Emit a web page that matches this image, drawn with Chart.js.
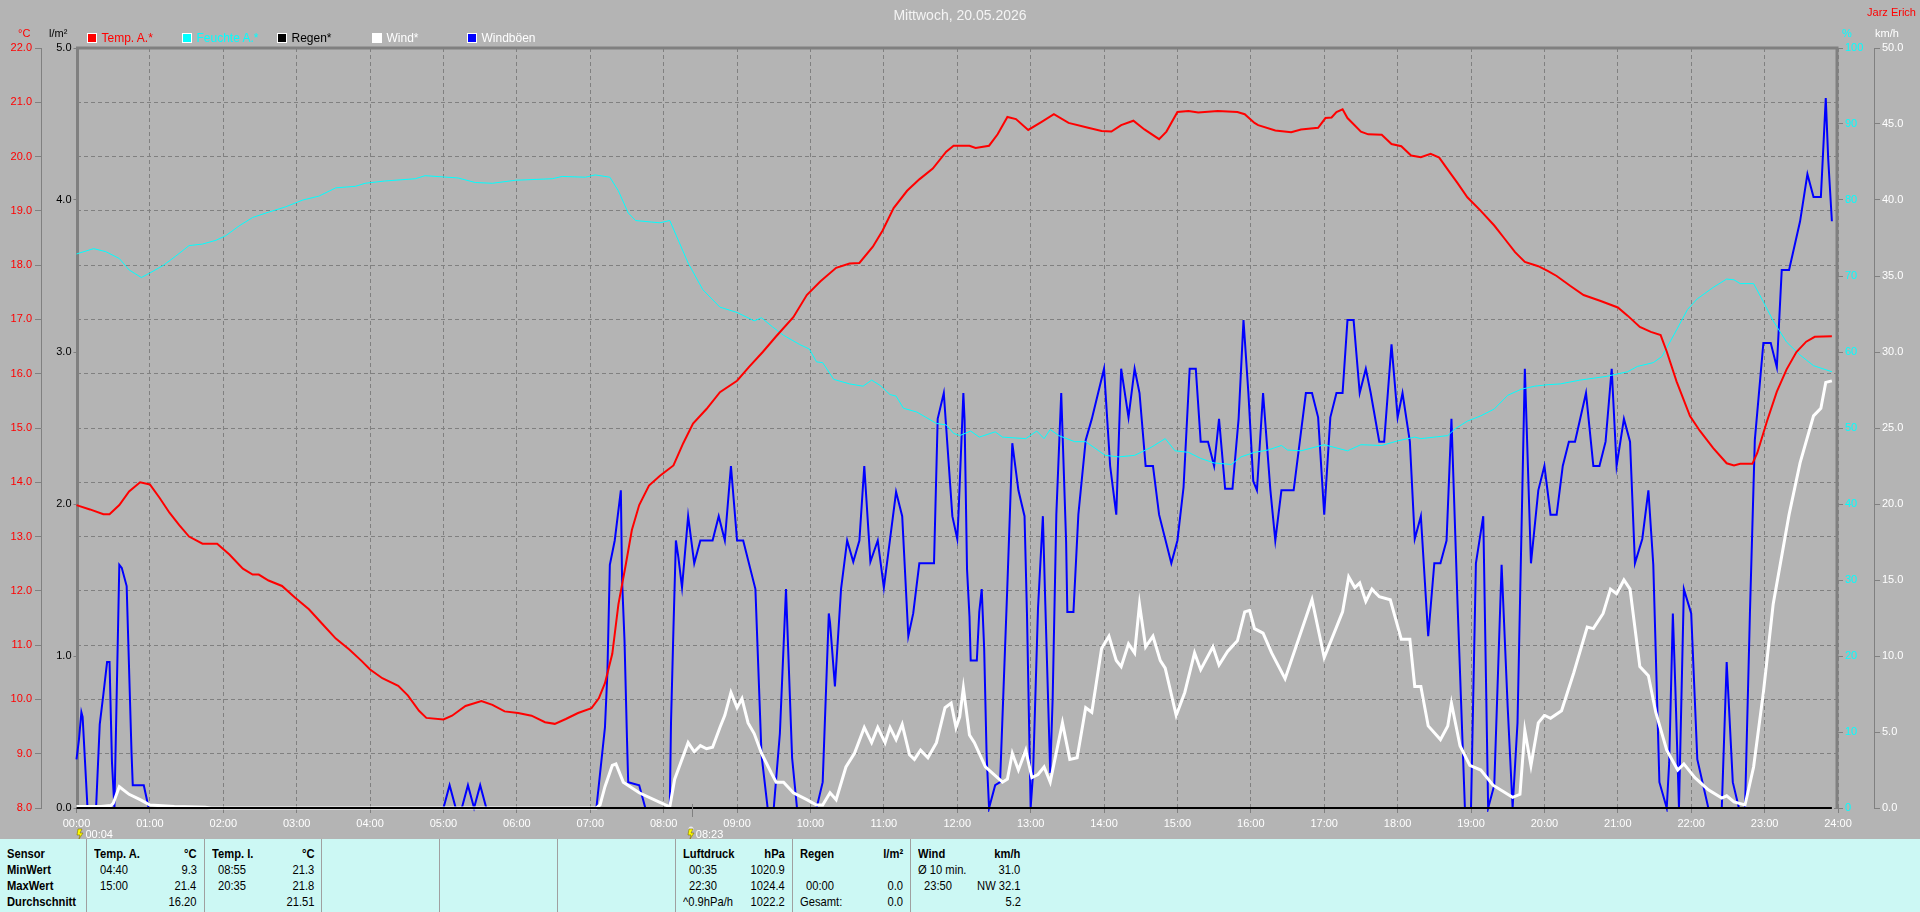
<!DOCTYPE html>
<html>
<head>
<meta charset="utf-8">
<script src="https://cdn.jsdelivr.net/npm/chart.js@4.4.1/dist/chart.umd.min.js"></script>
<style>
html,body{margin:0;padding:0;width:1920px;height:912px;overflow:hidden;background:#b4b4b4;font-family:"Liberation Sans",Arial,sans-serif;}
#wrap{position:absolute;left:0;top:0;width:1920px;height:839px;}
#c{position:absolute;left:0;top:0;}
.t{position:absolute;white-space:nowrap;line-height:14px;}
.sq{position:absolute;width:8px;height:8px;border:1px solid #ffffff;}
#table{position:absolute;left:0;top:839px;width:1920px;height:73px;background:#ccf8f4;font-family:"Liberation Sans",Arial,sans-serif;font-size:13px;color:#000;}
.col{position:absolute;top:0;height:73px;box-sizing:border-box;padding-top:7px;}
.col.sep{border-left:1px solid #a0a0a0;}
.row{display:flex;justify-content:space-between;height:16px;line-height:16px;padding:0 7px 0 7px;white-space:nowrap;}
.row span{display:inline-block;}
.row .l{transform:scaleX(0.86);transform-origin:left center;}
.row .r{transform:scaleX(0.86);transform-origin:right center;}
.b{font-weight:bold;}
.ind{margin-left:6px;}
</style>
</head>
<body>
<div id="wrap"><canvas id="c" width="1920" height="839"></canvas></div>
<div id="table"></div>
<script>
// ---------------- DATA ----------------
const chartTitle = "Mittwoch, 20.05.2026";
const stationName = "Jarz Erich";
const seriesNames = ["Temp. A.*", "Feuchte A.*", "Regen*", "Wind*", "Windböen"];
const seriesColors = ["#ff0000", "#00ffff", "#000000", "#ffffff", "#0000ff"];
const legendTextColors = ["#ff0000", "#00ffff", "#000000", "#ffffff", "#ffffff"];
const axisUnits = ["°C", "l/m²", "%", "km/h"];
const markerTimes = [4, 503]; // minutes: 00:04, 08:23

// [minute of day, value]
const temperature = [[0,13.58],[11,13.50],[22,13.41],[27,13.41],[35,13.58],[43,13.83],[52,14.00],[60,13.96],[68,13.71],[76,13.44],[84,13.21],[92,13.00],[103,12.87],[115,12.87],[125,12.67],[136,12.41],[144,12.30],[149,12.30],[157,12.19],[168,12.09],[179,11.87],[190,11.66],[201,11.39],[212,11.12],[223,10.92],[233,10.71],[240,10.55],[250,10.39],[263,10.25],[271,10.07],[280,9.79],[286,9.66],[300,9.63],[307,9.70],[318,9.88],[331,9.97],[340,9.90],[350,9.78],[361,9.75],[372,9.70],[383,9.58],[391,9.55],[400,9.64],[410,9.75],[421,9.84],[427,10.02],[432,10.30],[438,10.84],[443,11.75],[449,12.48],[454,13.12],[460,13.58],[468,13.94],[477,14.12],[488,14.31],[496,14.72],[504,15.08],[515,15.35],[526,15.66],[540,15.87],[550,16.13],[561,16.40],[572,16.69],[586,17.04],[597,17.45],[608,17.70],[621,17.95],[632,18.03],[640,18.04],[651,18.34],[659,18.64],[668,19.05],[679,19.37],[689,19.58],[700,19.78],[711,20.09],[717,20.20],[730,20.20],[735,20.16],[746,20.20],[753,20.41],[761,20.73],[768,20.69],[778,20.49],[789,20.64],[799,20.78],[811,20.62],[827,20.53],[838,20.47],[846,20.46],[854,20.58],[864,20.66],[873,20.50],[885,20.32],[891,20.46],[900,20.82],[909,20.84],[917,20.81],[933,20.84],[949,20.82],[955,20.78],[963,20.62],[966,20.58],[980,20.48],[993,20.45],[1001,20.50],[1015,20.53],[1021,20.71],[1026,20.72],[1030,20.82],[1035,20.87],[1039,20.71],[1050,20.46],[1056,20.41],[1067,20.40],[1075,20.23],[1083,20.19],[1091,20.02],[1099,19.99],[1107,20.05],[1114,19.98],[1121,19.76],[1129,19.51],[1137,19.25],[1148,19.00],[1159,18.73],[1167,18.50],[1176,18.24],[1184,18.06],[1195,17.98],[1203,17.89],[1210,17.80],[1221,17.62],[1232,17.45],[1246,17.34],[1260,17.22],[1268,17.07],[1278,16.86],[1287,16.77],[1295,16.71],[1300,16.41],[1308,15.86],[1319,15.22],[1327,14.95],[1338,14.63],[1349,14.35],[1355,14.31],[1360,14.34],[1370,14.34],[1374,14.54],[1382,15.13],[1390,15.67],[1398,16.08],[1406,16.40],[1414,16.59],[1421,16.68],[1435,16.69]];

const humidity = [[0,72.9],[14,73.6],[24,73.2],[35,72.3],[43,70.8],[53,69.8],[60,70.4],[71,71.4],[81,72.6],[92,74.0],[103,74.2],[114,74.7],[122,75.3],[133,76.6],[144,77.7],[157,78.4],[171,79.1],[185,80.0],[198,80.5],[212,81.6],[228,81.8],[236,82.2],[252,82.5],[277,82.8],[285,83.2],[312,82.9],[326,82.3],[340,82.2],[359,82.6],[389,82.8],[397,83.1],[416,83.0],[424,83.3],[436,83.0],[443,81.2],[451,78.3],[457,77.3],[470,77.1],[477,77.0],[485,77.3],[500,71.7],[512,68.2],[526,65.9],[540,65.2],[554,64.1],[560,64.5],[569,63.3],[578,62.2],[591,61.0],[599,60.4],[605,58.7],[610,58.6],[619,56.4],[632,55.8],[643,55.5],[650,56.3],[657,55.6],[665,54.4],[670,54.2],[676,52.6],[687,52.1],[703,50.6],[711,50.4],[717,49.3],[722,49.0],[731,49.6],[738,48.8],[751,49.5],[757,48.8],[776,48.6],[785,49.6],[791,48.6],[796,49.8],[803,49.0],[816,48.2],[825,48.2],[841,46.4],[852,46.2],[865,46.4],[879,47.5],[890,48.6],[898,47.0],[909,46.8],[919,46.0],[930,45.4],[944,45.2],[952,46.2],[963,46.8],[974,47.1],[985,47.7],[990,47.1],[1001,47.0],[1020,47.8],[1039,47.0],[1050,47.8],[1067,47.7],[1080,48.3],[1094,48.8],[1099,48.6],[1121,49.0],[1127,49.9],[1137,50.9],[1148,51.6],[1159,52.5],[1170,54.3],[1181,55.1],[1192,55.5],[1203,55.7],[1213,55.8],[1229,56.3],[1251,56.8],[1268,57.4],[1276,58.1],[1289,58.6],[1296,59.4],[1306,62.3],[1317,65.6],[1325,67.0],[1338,68.5],[1349,69.6],[1355,69.5],[1360,69.0],[1371,69.0],[1379,66.6],[1387,64.1],[1398,61.3],[1409,59.6],[1420,58.2],[1435,57.4]];

const rain = [[0,0],[1435,0]];

const wind = [[0,0.1],[20,0.1],[28,0.16],[30,0.3],[35,1.4],[43,0.9],[52,0.55],[60,0.2],[80,0.1],[105,0.05],[110,0],[425,0],[428,0.2],[432,1.4],[438,2.8],[441,2.9],[447,1.7],[460,1.0],[476,0.4],[485,0.07],[489,1.9],[500,4.3],[505,3.7],[510,4.1],[515,3.9],[520,4.0],[526,5.3],[530,6.1],[535,7.6],[540,6.6],[544,7.2],[549,5.6],[554,4.9],[560,3.6],[568,2.3],[572,1.7],[578,1.7],[586,1.0],[597,0.55],[605,0.2],[610,0.2],[616,1.0],[621,0.55],[629,2.7],[636,3.6],[644,5.3],[650,4.3],[655,5.3],[661,4.3],[665,5.3],[670,4.5],[675,5.5],[681,3.5],[685,3.2],[690,3.8],[696,3.3],[703,4.3],[710,6.6],[715,6.9],[719,5.3],[722,6.0],[725,7.9],[730,4.8],[734,4.3],[743,2.7],[757,1.7],[761,1.9],[765,3.6],[770,2.5],[776,3.8],[781,2.0],[786,2.2],[791,2.7],[796,1.7],[806,5.6],[812,3.2],[818,3.3],[825,6.6],[830,6.3],[838,10.5],[844,11.3],[850,9.7],[854,9.3],[860,10.8],[865,10.2],[869,13.4],[874,10.6],[880,11.3],[886,9.7],[890,9.2],[899,6.1],[906,7.6],[914,10.2],[919,9.1],[929,10.6],[934,9.4],[941,10.3],[949,11.0],[955,12.9],[959,13.0],[963,11.8],[970,11.5],[977,10.2],[988,8.5],[999,11.1],[1010,13.7],[1020,9.9],[1030,11.9],[1035,12.9],[1040,15.2],[1045,14.5],[1049,14.8],[1054,13.6],[1059,14.4],[1065,13.9],[1074,13.7],[1083,11.1],[1090,11.1],[1094,8.0],[1099,8.0],[1105,5.4],[1115,4.5],[1121,5.4],[1124,6.9],[1131,4.1],[1139,2.8],[1148,2.5],[1158,1.5],[1174,0.7],[1180,0.9],[1184,5.1],[1189,2.8],[1195,5.6],[1200,6.1],[1205,5.9],[1214,6.4],[1224,8.9],[1235,11.9],[1240,11.8],[1248,12.8],[1254,14.4],[1259,14.1],[1265,15.0],[1270,14.4],[1278,9.3],[1285,8.7],[1291,6.3],[1300,3.8],[1309,2.5],[1314,2.9],[1323,2.0],[1334,1.2],[1345,0.65],[1349,0.8],[1355,0.4],[1364,0.2],[1371,2.7],[1379,7.6],[1387,13.4],[1400,19.3],[1409,22.7],[1420,25.8],[1426,26.3],[1430,28.0],[1435,28.1]];

const gusts = [[0,3.2],[2,4.5],[4,6.3],[5,6.0],[9,0],[16,0],[19,5.5],[22,7.5],[25,9.6],[27,9.6],[29,3.0],[31,0],[35,16.0],[37,15.8],[41,14.6],[45,3.6],[46,1.5],[55,1.5],[59,0],[300,0],[305,1.5],[310,0],[315,0],[320,1.5],[325,0],[330,1.5],[335,0],[425,0],[432,5.3],[434,8.9],[436,16.0],[440,17.6],[445,20.9],[446,15.0],[448,11.0],[450,4.6],[451,1.7],[460,1.5],[465,0],[485,0],[486,5.6],[488,11.8],[490,17.6],[492,16.5],[495,14.5],[500,19.2],[505,16.1],[510,17.6],[520,17.6],[525,19.2],[530,17.6],[535,22.5],[540,17.6],[545,17.6],[555,14.4],[560,3.5],[565,0],[570,0],[575,4.9],[580,14.4],[585,3.3],[589,0],[605,0],[610,1.7],[615,12.8],[616,12.2],[620,8.0],[625,14.4],[630,17.6],[635,16.2],[640,17.6],[644,22.5],[649,16.2],[655,17.6],[660,14.5],[670,20.8],[675,19.2],[680,11.3],[684,12.8],[689,16.1],[701,16.1],[704,25.6],[709,27.3],[716,19.2],[720,17.7],[721,19.3],[725,27.3],[726,25.5],[728,15.7],[730,12.6],[731,9.7],[736,9.7],[738,12.9],[740,14.4],[742,10.5],[744,3.5],[746,0],[751,1.5],[755,1.7],[761,14.7],[763,19.3],[765,24.0],[770,20.9],[775,19.2],[777,12.8],[780,0],[782,2.3],[786,13.1],[790,19.2],[792,13.4],[796,2.3],[798,7.2],[801,19.3],[805,27.3],[809,17.5],[810,12.9],[815,12.9],[819,19.3],[825,24.2],[830,25.6],[840,28.9],[845,22.5],[850,19.3],[854,28.9],[860,25.7],[865,28.9],[869,27.3],[874,22.5],[880,22.5],[885,19.3],[895,16.1],[900,17.6],[905,21.1],[910,28.9],[915,28.9],[919,24.1],[925,24.1],[930,22.5],[934,25.6],[939,21.0],[945,21.0],[950,25.6],[954,32.1],[958,27.3],[962,21.5],[965,20.9],[970,27.3],[976,20.9],[980,17.6],[985,20.9],[995,20.9],[1005,27.3],[1010,27.3],[1015,25.7],[1020,19.3],[1025,25.7],[1030,27.3],[1035,27.3],[1039,32.1],[1044,32.1],[1049,27.3],[1054,28.9],[1058,27.3],[1065,24.1],[1069,24.1],[1075,30.5],[1080,25.7],[1084,27.3],[1090,24.1],[1094,17.7],[1099,19.2],[1105,11.3],[1110,16.1],[1115,16.1],[1120,17.6],[1124,25.6],[1129,13.4],[1135,0],[1140,0],[1144,16.1],[1150,19.2],[1154,0],[1159,1.5],[1165,16.0],[1170,6.6],[1174,0],[1178,5.6],[1184,28.9],[1189,16.1],[1195,20.9],[1200,22.5],[1205,19.3],[1210,19.3],[1215,22.5],[1220,24.1],[1225,24.1],[1234,27.3],[1240,22.5],[1245,22.5],[1250,24.1],[1255,28.9],[1259,22.5],[1265,25.6],[1270,24.1],[1274,16.1],[1280,17.7],[1285,20.9],[1289,16.0],[1294,1.7],[1300,0],[1302,3.0],[1305,12.8],[1307,8.0],[1310,0],[1314,14.4],[1320,12.8],[1325,3.2],[1334,0],[1345,0],[1349,9.6],[1354,1.7],[1359,0],[1364,0],[1368,12.8],[1372,24.2],[1379,30.6],[1385,30.6],[1390,29.0],[1394,35.4],[1400,35.4],[1409,38.6],[1415,41.7],[1420,40.2],[1426,40.2],[1430,46.7],[1432,42.7],[1435,38.6]];

// Summary table
const tableRowLabels = ["Sensor", "MinWert", "MaxWert", "Durchschnitt"];
const tableColumns = [
  {head:["Temp. A.","°C"], rows:[["04:40","9.3"],["15:00","21.4"],["","16.20"]]},
  {head:["Temp. I.","°C"], rows:[["08:55","21.3"],["20:35","21.8"],["","21.51"]]},
  null, null, null,
  {head:["Luftdruck","hPa"], rows:[["00:35","1020.9"],["22:30","1024.4"],["^0.9hPa/h","1022.2",true]]},
  {head:["Regen","l/m²"], rows:[["",""],["00:00","0.0"],["Gesamt:","0.0",true]]},
  {head:["Wind","km/h"], rows:[["Ø 10 min.","31.0",true],["23:50","NW 32.1"],["","5.2"]]}
];

// ---------------- CHART ----------------
const toXY = arr => arr.map(p => ({x: p[0], y: p[1]}));
const pad2 = n => String(n).padStart(2, "0");
const GRID = "#808080";
const tickFont = {family: "Liberation Sans", size: 11};

const framePlugin = {
  id: "frame",
  beforeDatasetsDraw(chart) {
    const {ctx, chartArea: a} = chart;
    ctx.save();
    ctx.strokeStyle = GRID;
    ctx.lineWidth = 3;
    ctx.beginPath();
    ctx.moveTo(a.left + 1, a.bottom);
    ctx.lineTo(a.left + 1, a.top);
    ctx.lineTo(a.right - 1, a.top);
    ctx.lineTo(a.right - 1, a.bottom);
    ctx.stroke();
    ctx.restore();
  },
  afterDraw(chart) {
    const {ctx, chartArea: a} = chart;
    const xs = chart.scales.x;
    ctx.save();
    markerTimes.forEach((m, i) => {
      const x = Math.round(xs.getPixelForValue(m));
      if (i > 0) {
        ctx.strokeStyle = GRID; ctx.lineWidth = 1;
        ctx.beginPath(); ctx.moveTo(x + 0.5, a.bottom - 4); ctx.lineTo(x + 0.5, a.bottom + 9); ctx.stroke();
        ctx.fillStyle = "#e8e8f0";
        ctx.beginPath(); ctx.arc(x - 1, a.bottom + 21, 2.5, 0, Math.PI * 2); ctx.fill();
      }
      ctx.fillStyle = "#ffff00";
      ctx.strokeStyle = "#807000";
      ctx.lineWidth = 0.6;
      ctx.beginPath();
      const y0 = a.bottom + 21;
      ctx.moveTo(x - 3, y0);
      ctx.lineTo(x + 1, y0);
      ctx.lineTo(x - 1, y0 + 4);
      ctx.lineTo(x + 2, y0 + 4);
      ctx.lineTo(x - 2, y0 + 10);
      ctx.lineTo(x - 1, y0 + 6);
      ctx.lineTo(x - 4, y0 + 6);
      ctx.closePath();
      ctx.fill(); ctx.stroke();
    });
    ctx.restore();
  }
};

const ds = (i, data, axis, width) => ({
  label: seriesNames[i],
  data: toXY(data),
  yAxisID: axis,
  borderColor: seriesColors[i],
  backgroundColor: seriesColors[i],
  borderWidth: width,
  pointRadius: 0,
  tension: 0,
  fill: false,
  clip: 4
});

const chart = new Chart(document.getElementById("c"), {
  type: "line",
  data: {
    datasets: [
      ds(0, temperature, "yT", 2),
      ds(1, humidity, "yH", 1),
      ds(2, rain, "yR", 2),
      ds(3, wind, "yW", 3),
      ds(4, gusts, "yW", 2)
    ]
  },
  options: {
    responsive: false,
    animation: false,
    devicePixelRatio: 1,
    events: [],
    layout: {padding: {top: 48, left: 0, right: 0, bottom: 0}},
    plugins: {legend: {display: false}, tooltip: {enabled: false}, title: {display: false}},
    scales: {
      x: {
        type: "linear", position: "bottom", min: 0, max: 1440,
        afterFit: s => { s.height = 31; },
        ticks: {stepSize: 60, autoSkip: false, maxRotation: 0, color: "#ffffff", font: tickFont, padding: 4,
                callback: v => pad2(Math.floor(v / 60)) + ":" + pad2(v % 60)},
        grid: {color: GRID, lineWidth: 1, drawTicks: true, tickLength: 5, tickColor: GRID},
        border: {display: false, dash: [4, 3]}
      },
      yT: {
        type: "linear", position: "left", weight: 1, min: 8, max: 22,
        afterFit: s => { s.width = 41; },
        ticks: {stepSize: 1, color: "#ff0000", font: tickFont, padding: 3, callback: v => v.toFixed(1)},
        grid: {color: GRID, lineWidth: 1, drawOnChartArea: true, drawTicks: true, tickLength: 6, tickColor: GRID},
        border: {display: true, color: GRID, width: 1, dash: [4, 3]}
      },
      yR: {
        type: "linear", position: "left", weight: 0, min: 0, max: 5,
        afterFit: s => { s.width = 35.5; },
        ticks: {stepSize: 1, color: "#000000", font: tickFont, padding: 2, callback: v => v.toFixed(1)},
        grid: {drawOnChartArea: false, drawTicks: true, tickLength: 3, tickColor: GRID},
        border: {display: false}
      },
      yH: {
        type: "linear", position: "right", weight: 0, min: 0, max: 100,
        afterFit: s => { s.width = 36; },
        ticks: {stepSize: 10, color: "#00ffff", font: tickFont, padding: 2, callback: v => String(v)},
        grid: {drawOnChartArea: false, drawTicks: true, tickLength: 5, tickColor: GRID},
        border: {display: false}
      },
      yW: {
        type: "linear", position: "right", weight: 1, min: 0, max: 50,
        afterFit: s => { s.width = 46; },
        ticks: {stepSize: 5, color: "#ffffff", font: tickFont, padding: 2, callback: v => v.toFixed(1)},
        grid: {drawOnChartArea: false, drawTicks: true, tickLength: 6, tickColor: GRID},
        border: {display: true, color: GRID, width: 1}
      }
    }
  },
  plugins: [framePlugin]
});

// ---------------- TEXT OVERLAYS ----------------
const wrap = document.getElementById("wrap");
function addText(txt, css) {
  const d = document.createElement("div");
  d.className = "t";
  d.textContent = txt;
  Object.assign(d.style, css);
  wrap.appendChild(d);
  return d;
}
const a = chart.chartArea;
addText(chartTitle, {left: "0px", width: "1920px", textAlign: "center", top: "8px", fontSize: "14px", color: "#f4f4f4"});
addText(stationName, {right: "4px", top: "5px", fontSize: "11px", color: "#ff0000"});
// axis units
addText(axisUnits[0], {left: "18px", top: "26px", fontSize: "11px", color: "#ff0000"});
addText(axisUnits[1], {left: "49px", top: "26px", fontSize: "11px", color: "#000000"});
addText(axisUnits[2], {left: (chart.scales.yH.left + 4) + "px", top: "26px", fontSize: "11px", color: "#00ffff"});
addText(axisUnits[3], {left: (chart.scales.yW.left + 1) + "px", top: "26px", fontSize: "11px", color: "#ffffff"});
// legend
seriesNames.forEach((n, i) => {
  const x0 = a.left + 10 + i * 95;
  const sq = document.createElement("div");
  sq.className = "sq";
  Object.assign(sq.style, {left: x0 + "px", top: "33px", background: seriesColors[i]});
  wrap.appendChild(sq);
  addText(n, {left: (x0 + 15) + "px", top: "31px", fontSize: "12px", color: legendTextColors[i]});
});
// time markers under the axis
markerTimes.forEach(m => {
  const x = chart.scales.x.getPixelForValue(m);
  addText(pad2(Math.floor(m / 60)) + ":" + pad2(m % 60), {left: (x + 4) + "px", top: (a.bottom + 19) + "px", fontSize: "11px", color: "#ffffff"});
});

// ---------------- TABLE ----------------
const table = document.getElementById("table");
const colW = 117.7;
function mkRow(l, r, cls, indent) {
  const row = document.createElement("div");
  row.className = "row" + (cls ? " " + cls : "");
  const s1 = document.createElement("span"); s1.textContent = l;
  s1.className = "l" + (indent ? " ind" : "");
  const s2 = document.createElement("span"); s2.textContent = r;
  s2.className = "r";
  row.appendChild(s1); row.appendChild(s2);
  return row;
}
const c0 = document.createElement("div");
c0.className = "col";
Object.assign(c0.style, {left: "0px", width: "86px"});
tableRowLabels.forEach(t => c0.appendChild(mkRow(t, "", "b", false)));
table.appendChild(c0);
tableColumns.forEach((col, i) => {
  const c = document.createElement("div");
  c.className = "col sep";
  Object.assign(c.style, {left: (86 + i * colW) + "px", width: colW + "px"});
  if (col) {
    c.appendChild(mkRow(col.head[0], col.head[1], "b", false));
    col.rows.forEach(r => c.appendChild(mkRow(r[0], r[1], "", !r[2] && r[0] !== "")));
  }
  table.appendChild(c);
});
</script>
</body>
</html>
